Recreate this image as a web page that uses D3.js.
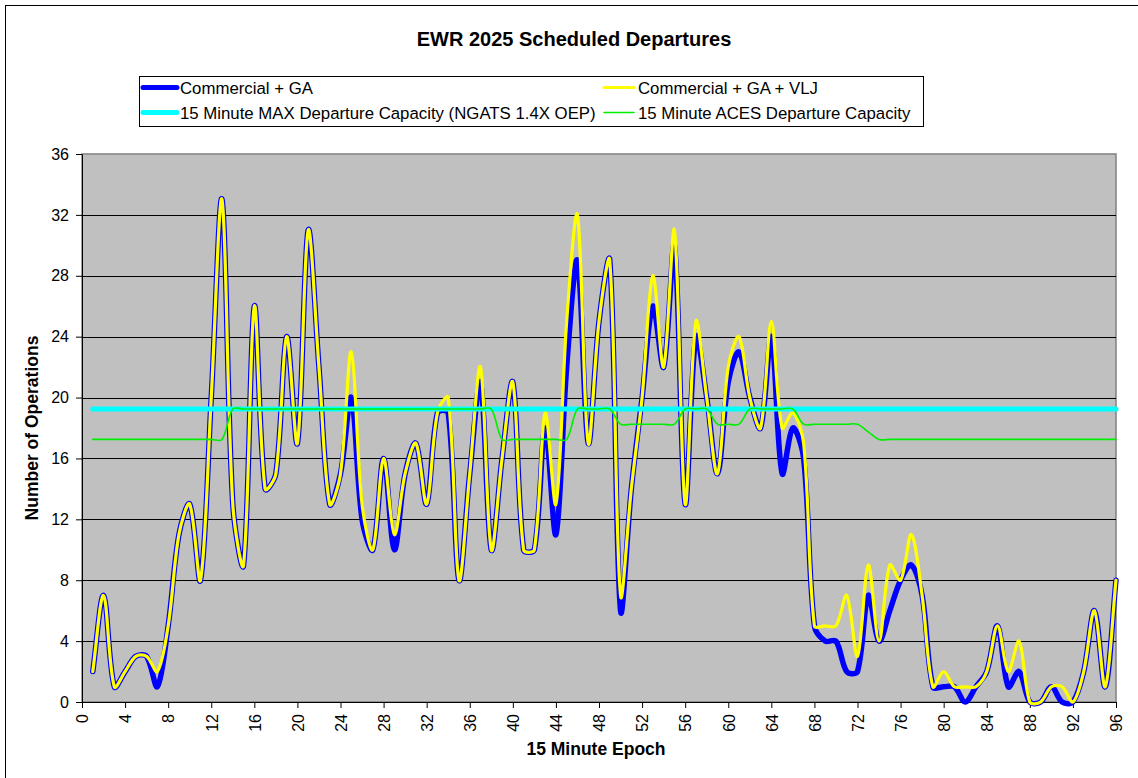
<!DOCTYPE html>
<html>
<head>
<meta charset="utf-8">
<script src="https://cdn.jsdelivr.net/npm/d3@7"></script>
<style>
  html, body { margin: 0; padding: 0; background: #ffffff; }
  svg { display: block; font-family: "Liberation Sans", Arial, sans-serif; }
</style>
</head>
<body>
<svg id="chart" width="1138" height="778"></svg>
<script>
// 15-minute epochs of the day
const epochs = d3.range(1, 97);

// Scheduled departures per epoch
const commercialGA = [
  2, 7, 1, 2, 3, 3, 1, 5, 11, 13, 8, 20, 33, 13, 9, 26, 14, 15, 24, 17,
  31, 22, 13, 15, 20, 12, 10, 16, 10, 15, 17, 13, 19, 19, 8, 15, 21, 10, 16, 21,
  10, 10, 18, 11, 22, 29, 17, 25, 29, 6, 14, 20, 26, 22, 30, 13, 24, 20, 15, 21,
  23, 20, 18, 24, 15, 18, 16, 5, 4, 4, 2, 2, 7, 4, 6, 8, 9, 7, 1, 1,
  1, 0, 1, 2, 5, 1, 2, 0, 0, 1, 0, 0, 2, 6, 1, 8
];
const commercialGAVLJ = [
  2, 7, 1, 2, 3, 3, 2, 5, 11, 13, 8, 20, 33, 13, 9, 26, 14, 15, 24, 17,
  31, 22, 13, 15, 23, 13, 10, 16, 11, 15, 17, 13, 19, 20, 8, 15, 22, 10, 16, 21,
  10, 10, 19, 13, 25, 32, 17, 25, 29, 7, 14, 20, 28, 22, 31, 13, 25, 20, 15, 22,
  24, 20, 18, 25, 18, 19, 17, 5, 5, 5, 7, 3, 9, 4, 9, 8, 11, 7, 1, 2,
  1, 1, 1, 2, 5, 2, 4, 0, 0, 1, 1, 0, 2, 6, 1, 8
];
// Capacity per epoch
const maxCapacity = [
  19.25, 19.25, 19.25, 19.25, 19.25, 19.25, 19.25, 19.25, 19.25, 19.25, 19.25, 19.25,
  19.25, 19.25, 19.25, 19.25, 19.25, 19.25, 19.25, 19.25, 19.25, 19.25, 19.25, 19.25,
  19.25, 19.25, 19.25, 19.25, 19.25, 19.25, 19.25, 19.25, 19.25, 19.25, 19.25, 19.25,
  19.25, 19.25, 19.25, 19.25, 19.25, 19.25, 19.25, 19.25, 19.25, 19.25, 19.25, 19.25,
  19.25, 19.25, 19.25, 19.25, 19.25, 19.25, 19.25, 19.25, 19.25, 19.25, 19.25, 19.25,
  19.25, 19.25, 19.25, 19.25, 19.25, 19.25, 19.25, 19.25, 19.25, 19.25, 19.25, 19.25,
  19.25, 19.25, 19.25, 19.25, 19.25, 19.25, 19.25, 19.25, 19.25, 19.25, 19.25, 19.25,
  19.25, 19.25, 19.25, 19.25, 19.25, 19.25, 19.25, 19.25, 19.25, 19.25, 19.25, 19.25
];
const acesCapacity = [
  17.25, 17.25, 17.25, 17.25, 17.25, 17.25, 17.25, 17.25, 17.25, 17.25, 17.25, 17.25,
  17.25, 19.25, 19.25, 19.25, 19.25, 19.25, 19.25, 19.25, 19.25, 19.25, 19.25, 19.25,
  19.25, 19.25, 19.25, 19.25, 19.25, 19.25, 19.25, 19.25, 19.25, 19.25, 19.25, 19.25,
  19.25, 19.25, 17.25, 17.25, 17.25, 17.25, 17.25, 17.25, 17.25, 19.25, 19.25, 19.25,
  19.25, 18.25, 18.25, 18.25, 18.25, 18.25, 18.25, 19.25, 19.25, 19.25, 18.25, 18.25,
  18.25, 19.25, 19.25, 19.25, 19.25, 19.25, 18.25, 18.25, 18.25, 18.25, 18.25, 18.25,
  17.75, 17.25, 17.25, 17.25, 17.25, 17.25, 17.25, 17.25, 17.25, 17.25, 17.25, 17.25,
  17.25, 17.25, 17.25, 17.25, 17.25, 17.25, 17.25, 17.25, 17.25, 17.25, 17.25, 17.25
];

const xTicks = [0, 4, 8, 12, 16, 20, 24, 28, 32, 36, 40, 44, 48, 52, 56, 60, 64, 68, 72, 76, 80, 84, 88, 92, 96];
const yTicks = [0, 4, 8, 12, 16, 20, 24, 28, 32, 36];

const series = [
  { name: "Commercial + GA", values: commercialGA, color: "#0000ff", width: 5.5, sample: 5 },
  { name: "Commercial + GA + VLJ", values: commercialGAVLJ, color: "#ffff00", width: 3.2, sample: 3 },
  { name: "15 Minute MAX Departure Capacity (NGATS 1.4X OEP)", values: maxCapacity, color: "#00ffff", width: 5, sample: 5 },
  { name: "15 Minute ACES Departure Capacity", values: acesCapacity, color: "#00ee00", width: 1.6, sample: 1.6 }
];

// Smoothed line: cubic Bezier segments whose control handles follow the
// neighbouring points and are scaled by the relative chord lengths, so short
// flat runs stay flat while long swings keep a Catmull-Rom look.
function SmoothChord(context) { this._context = context; }
SmoothChord.prototype = {
  areaStart() { this._line = 0; },
  areaEnd() { this._line = NaN; },
  lineStart() { this._pts = []; },
  point(px, py) { this._pts.push([+px, +py]); },
  lineEnd() {
    const p = this._pts, n = p.length, ctx = this._context;
    if (!n) return;
    const dist = (a, b) => Math.hypot(b[0] - a[0], b[1] - a[1]);
    ctx.moveTo(p[0][0], p[0][1]);
    if (n === 1) return;
    for (let i = 0; i < n - 1; i++) {
      const a = p[i], b = p[i + 1];
      const prev = i > 0 ? p[i - 1] : a;
      const next = i + 2 < n ? p[i + 2] : b;
      const dPrev = dist(prev, a), dCur = dist(a, b), dNext = dist(b, next);
      const k1 = dCur / (3 * ((dPrev + dCur) || 1));
      const k2 = dCur / (3 * ((dCur + dNext) || 1));
      const t1 = [b[0] - prev[0], b[1] - prev[1]];
      const t2 = [next[0] - a[0], next[1] - a[1]];
      ctx.bezierCurveTo(
        a[0] + t1[0] * k1, a[1] + t1[1] * k1,
        b[0] - t2[0] * k2, b[1] - t2[1] * k2,
        b[0], b[1]
      );
    }
  }
};
const curveSmoothChord = context => new SmoothChord(context);

const svg = d3.select("#chart");
const plot = { left: 82, right: 1116, top: 154, bottom: 702 };

const x = d3.scaleLinear().domain([0, 96]).range([plot.left, plot.right]);
const y = d3.scaleLinear().domain([0, 36]).range([plot.bottom, plot.top]);

// Chart frame
svg.append("rect").attr("x", 0).attr("y", 0).attr("width", 1138).attr("height", 778).attr("fill", "#ffffff");
svg.append("rect")
  .attr("x", 5.5).attr("y", 5.5).attr("width", 1150).attr("height", 800)
  .attr("fill", "none").attr("stroke", "#000").attr("stroke-width", 1);

// Title
svg.append("text")
  .attr("x", 574).attr("y", 46)
  .attr("text-anchor", "middle")
  .attr("font-size", 20).attr("font-weight", "bold")
  .text("EWR 2025 Scheduled Departures");

// Plot area
svg.append("rect")
  .attr("x", plot.left).attr("y", plot.top)
  .attr("width", plot.right - plot.left).attr("height", plot.bottom - plot.top)
  .attr("fill", "#c0c0c0").attr("stroke", "#808080").attr("stroke-width", 1.5);

// Horizontal gridlines
svg.append("g").selectAll("line")
  .data(yTicks.filter(v => v > 0 && v < 36))
  .join("line")
  .attr("x1", plot.left).attr("x2", plot.right)
  .attr("y1", d => Math.round(y(d)) + 0.5).attr("y2", d => Math.round(y(d)) + 0.5)
  .attr("stroke", "#000").attr("stroke-width", 1);

// Axes
const yAxis = svg.append("g")
  .attr("transform", `translate(${plot.left},0)`)
  .call(d3.axisLeft(y).tickValues(yTicks).tickSize(6).tickPadding(7).tickSizeOuter(0).tickFormat(d3.format("d")));
yAxis.selectAll("text").attr("font-size", 16).attr("fill", "#000").attr("font-family", "'Liberation Sans', Arial, sans-serif");
yAxis.selectAll("line, path").attr("stroke", "#000");

const xAxis = svg.append("g")
  .attr("transform", `translate(0,${plot.bottom})`)
  .call(d3.axisBottom(x).tickValues(xTicks).tickSize(6).tickSizeOuter(0).tickFormat(d3.format("d")));
xAxis.selectAll("text")
  .attr("font-size", 16).attr("fill", "#000").attr("font-family", "'Liberation Sans', Arial, sans-serif")
  .attr("transform", "rotate(-90)")
  .attr("text-anchor", "end")
  .attr("x", -12).attr("y", 0).attr("dy", "0.36em");
xAxis.selectAll("line, path").attr("stroke", "#000");

// Axis titles
svg.append("text")
  .attr("transform", "translate(38,428) rotate(-90)")
  .attr("text-anchor", "middle")
  .attr("font-size", 17.5).attr("font-weight", "bold")
  .text("Number of Operations");
svg.append("text")
  .attr("x", 596).attr("y", 755)
  .attr("text-anchor", "middle")
  .attr("font-size", 17.5).attr("font-weight", "bold")
  .text("15 Minute Epoch");

// Smoothed series lines
const line = d3.line()
  .x((d, i) => x(epochs[i]))
  .y(d => y(d))
  .curve(curveSmoothChord);

const lines = svg.append("g");
series.forEach(s => {
  lines.append("path")
    .datum(s.values)
    .attr("d", line)
    .attr("fill", "none")
    .attr("stroke", s.color)
    .attr("stroke-width", s.width)
    .attr("stroke-linejoin", "round")
    .attr("stroke-linecap", "round");
});

// Legend
const legend = svg.append("g");
legend.append("rect")
  .attr("x", 139.5).attr("y", 76.5).attr("width", 784).attr("height", 50)
  .attr("fill", "#ffffff").attr("stroke", "#000").attr("stroke-width", 1);
const legendPos = [
  { sx: 143, ex: 177, tx: 180, cy: 87.5 },
  { sx: 604, ex: 634, tx: 638, cy: 87.5 },
  { sx: 143, ex: 177, tx: 180, cy: 112.5 },
  { sx: 604, ex: 634, tx: 638, cy: 112.5 }
];
series.forEach((s, i) => {
  const p = legendPos[i];
  legend.append("line")
    .attr("x1", p.sx).attr("x2", p.ex).attr("y1", p.cy).attr("y2", p.cy)
    .attr("stroke", s.color).attr("stroke-width", s.sample).attr("stroke-linecap", "round");
  legend.append("text")
    .attr("x", p.tx).attr("y", p.cy + 6)
    .attr("font-size", 16.8)
    .text(s.name);
});
</script>
</body>
</html>
